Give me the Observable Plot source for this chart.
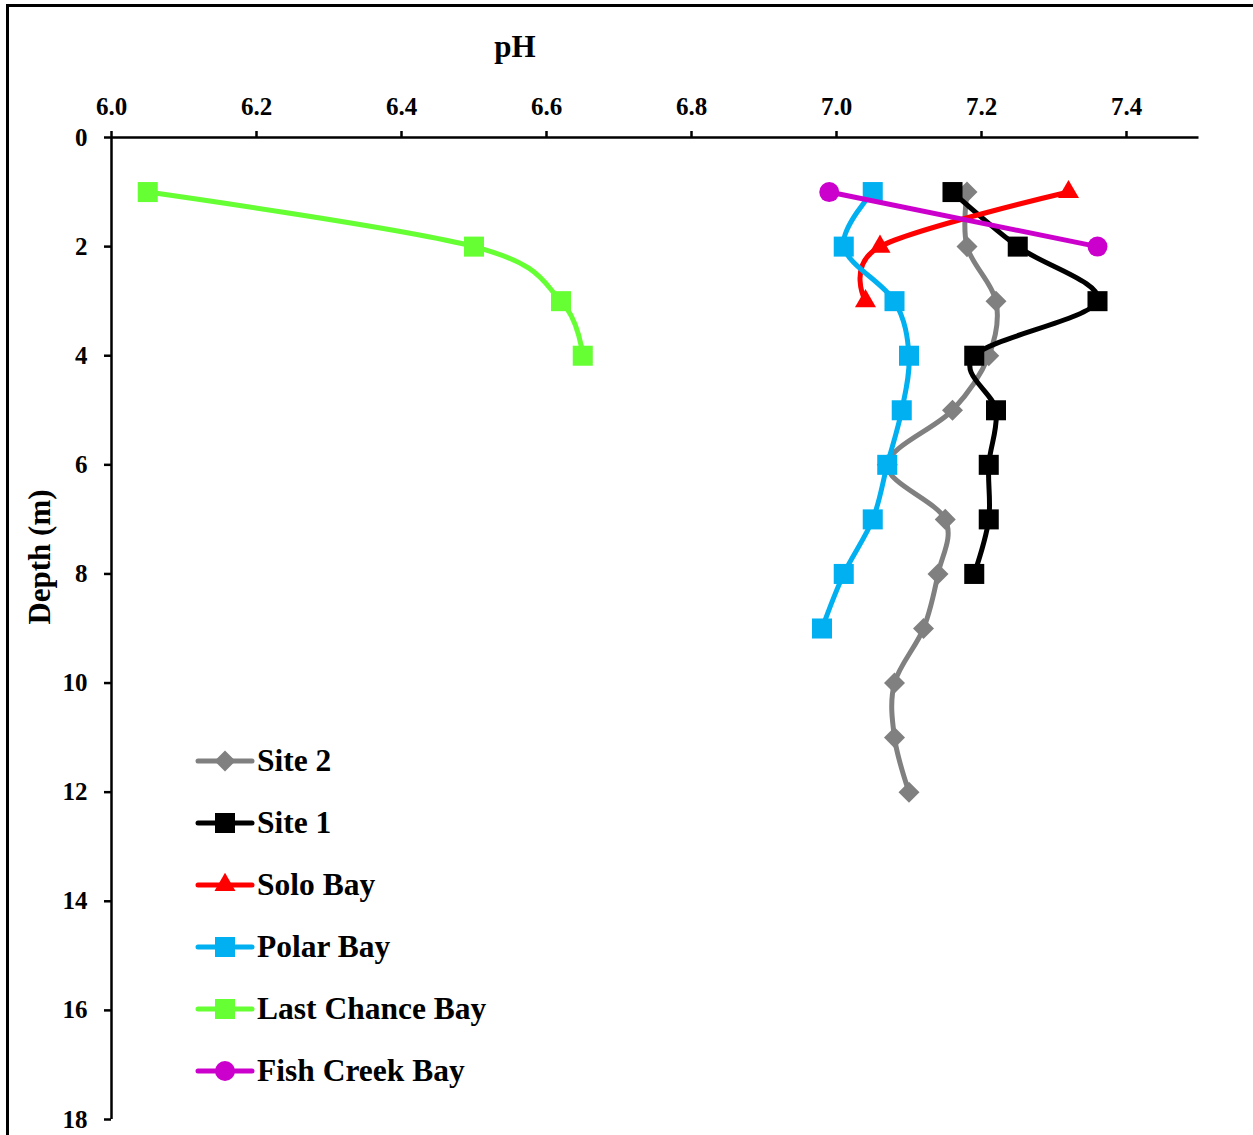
<!DOCTYPE html>
<html>
<head>
<meta charset="utf-8">
<script src="https://cdn.jsdelivr.net/npm/d3@7"></script>
<script src="https://cdn.jsdelivr.net/npm/@observablehq/plot@0.6"></script>
<style>
  html, body { margin: 0; padding: 0; background: #fff; }
  #wrap { position: relative; width: 1253px; height: 1135px; overflow: hidden; font-family: "Liberation Serif", "Times New Roman", serif; font-weight: bold; color: #000; }
  #border { position: absolute; left: 6px; top: 4px; width: 1300px; height: 1300px; border-left: 3px solid #000; border-top: 3px solid #000; box-sizing: border-box; }
  #chart { position: absolute; left: 0; top: 0; }
  .title { position: absolute; white-space: nowrap; }
  #legend { position: absolute; left: 0; top: 0; }
</style>
</head>
<body>
<div id="wrap">
  <div id="border"></div>
  <div id="chart"></div>
  <div class="title" id="xtitle" style="left:515px; top:29px; font-size:31px; transform:translateX(-50%);">pH</div>
  <div class="title" id="ytitle" style="left:40px; top:557px; font-size:31px; transform:translate(-50%,-50%) rotate(-90deg);">Depth (m)</div>
  <svg id="legend" width="1253" height="1135"></svg>
</div>
<script>
// ---- Data ----
const seriesNames = ["Site 2", "Site 1", "Solo Bay", "Polar Bay", "Last Chance Bay", "Fish Creek Bay"];
const depths = [1, 2, 3, 4, 5, 6, 7, 8, 9, 10, 11, 12];
const site2PH = [7.18, 7.18, 7.22, 7.21, 7.16, 7.07, 7.15, 7.14, 7.12, 7.08, 7.08, 7.10];
const site1PH = [7.16, 7.25, 7.36, 7.19, 7.22, 7.21, 7.21, 7.19];
const soloBayPH = [7.32, 7.06, 7.04];
const polarBayPH = [7.05, 7.01, 7.08, 7.10, 7.09, 7.07, 7.05, 7.01, 6.98];
const lastChanceBayPH = [6.05, 6.50, 6.62, 6.65];
const fishCreekBayPH = [6.99, 7.36];
const xTicks = [6.0, 6.2, 6.4, 6.6, 6.8, 7.0, 7.2, 7.4];
const yTicks = [0, 2, 4, 6, 8, 10, 12, 14, 16, 18];

// ---- Styles ----
const diamond = {
  draw(ctx, size) {
    const h = Math.sqrt(size / 2);
    ctx.moveTo(0, -h); ctx.lineTo(h, 0); ctx.lineTo(0, h); ctx.lineTo(-h, 0); ctx.closePath();
  }
};
const styles = {
  "Site 2": {color: "#808080", symbol: diamond, r: 8.4},
  "Site 1": {color: "#000000", symbol: "square", r: 11.3},
  "Solo Bay": {color: "#FF0000", symbol: "triangle", r: 7.8},
  "Polar Bay": {color: "#00B0F0", symbol: "square", r: 11.3},
  "Last Chance Bay": {color: "#66FF33", symbol: "square", r: 11.3},
  "Fish Creek Bay": {color: "#CC00CC", symbol: "circle", r: 10}
};
const seriesValues = [site2PH, site1PH, soloBayPH, polarBayPH, lastChanceBayPH, fishCreekBayPH];
const series = seriesNames.map((name, i) => ({
  name,
  rows: seriesValues[i].map((ph, j) => ({ph, depth: depths[j]}))
}));

const marks = [];
for (const s of series) {
  const st = styles[s.name];
  marks.push(Plot.line(s.rows, {x: "ph", y: "depth", stroke: st.color, strokeWidth: 5, curve: "cardinal"}));
  marks.push(Plot.dot(s.rows, {x: "ph", y: "depth", fill: st.color, stroke: "none", symbol: st.symbol, r: st.r}));
}

const chart = Plot.plot({
  width: 1253,
  height: 1135,
  marginLeft: 111,
  marginRight: 54.5,
  marginTop: 137,
  marginBottom: 16,
  style: {fontFamily: "Liberation Serif, Times New Roman, serif", fontSize: "25px", fontWeight: "bold", color: "#000", background: "transparent", overflow: "visible"},
  x: {domain: [6.0, 7.5]},
  y: {domain: [0, 18], reverse: true},
  marks: [
    Plot.axisX({anchor: "top", ticks: xTicks, tickSize: 7, tickPadding: 16, tickFormat: d => d.toFixed(1), label: null, strokeWidth: 2.5, fontSize: 25}),
    Plot.axisY({anchor: "left", ticks: yTicks, tickSize: 7, tickPadding: 17, tickFormat: d => String(d), label: null, strokeWidth: 2.5, fontSize: 25}),
    Plot.ruleY([0], {stroke: "#000", strokeWidth: 2.5}),
    Plot.ruleX([6.0], {stroke: "#000", strokeWidth: 2.5}),
    ...marks
  ]
});
document.getElementById("chart").appendChild(chart);

// ---- Legend (inside plot area, bottom-left) ----
const legend = d3.select("#legend");
const legendTop = 761, legendStep = 62, lx0 = 198, lx1 = 252, lmx = 225, ltx = 257;
series.forEach((s, i) => {
  const st = styles[s.name];
  const y = legendTop + i * legendStep;
  const g = legend.append("g");
  g.append("line").attr("x1", lx0).attr("x2", lx1).attr("y1", y).attr("y2", y)
    .attr("stroke", st.color).attr("stroke-width", 5).attr("stroke-linecap", "round");
  const size = st.r * st.r * Math.PI;
  if (st.symbol === "circle") {
    g.append("circle").attr("cx", lmx).attr("cy", y).attr("r", st.r).attr("fill", st.color);
  } else {
    const sym = st.symbol === "square" ? d3.symbolSquare : st.symbol === "triangle" ? d3.symbolTriangle : st.symbol;
    g.append("path").attr("transform", `translate(${lmx},${y})`).attr("d", d3.symbol(sym, size)()).attr("fill", st.color);
  }
  g.append("text").attr("x", ltx).attr("y", y + 10).text(s.name)
    .attr("font-family", "Liberation Serif, Times New Roman, serif").attr("font-weight", "bold").attr("font-size", 31.5).attr("fill", "#000");
});
</script>
</body>
</html>
